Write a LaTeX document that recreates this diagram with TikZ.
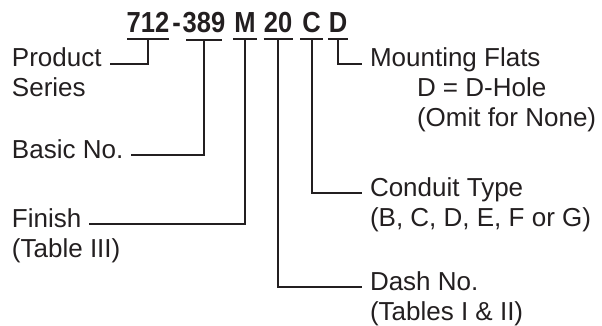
\documentclass[tikz,border=0pt]{standalone}
\usepackage{fontspec}
\setmainfont{Liberation Sans}
\newfontfamily\codefont[FakeStretch=0.88]{Liberation Sans}
\usetikzlibrary{%
    calc,
    positioning
}
\definecolor{inkgray}{HTML}{231F20}
\tikzset{codepart/.style = {font=\fontsize{29}{30}\codefont\bfseries, text=inkgray, inner xsep=0pt, inner ysep=6pt, anchor=base}}
\tikzset{fieldname/.style = {font=\fontsize{26}{30}\selectfont, text=inkgray, inner xsep=0pt, inner ysep=0pt, outer xsep=8pt, anchor=base west}}
\tikzset{leader/.style = {line width=2pt, draw=inkgray}}

\begin{document}
\begin{tikzpicture}[x=1pt, y=-1pt]
    \useasboundingbox (0,0) rectangle (602,326);

    % part number
    \node[codepart] (c712)  at (148,33)   {712};
    \node[codepart] (cdash) at (176.5,33) {-};
    \node[codepart] (c389)  at (204,33)   {389};
    \node[codepart] (cM)    at (245,33)   {M};
    \node[codepart] (c20)   at (278,33)   {20};
    \node[codepart] (cC)    at (311.5,33) {C};
    \node[codepart] (cD)    at (338,33)   {D};

    % field names, left side
    \node[fieldname] (product) at (4,67)  {Product};
    \node[fieldname] (series)  at ([yshift=-30pt]product.base west) {Series};
    \node[fieldname] (basic)   at (4,158) {Basic No.};
    \node[fieldname] (finish)  at (4,227) {Finish};
    \node[fieldname] (table3)  at ([yshift=-30pt]finish.base west) {(Table III)};

    % field names, right side
    \node[fieldname] (mounting) at (362,67)  {Mounting Flats};
    \node[fieldname] (dhole)    at ([xshift=47pt, yshift=-30pt]mounting.base west) {D = D-Hole};
    \node[fieldname] (omit)     at ([yshift=-30pt]dhole.base west) {(Omit for None)};
    \node[fieldname] (conduit)  at (362,196) {Conduit Type};
    \node[fieldname] (letters)  at ([yshift=-30pt]conduit.base west) {(B, C, D, E, F or G)};
    \node[fieldname] (dash)     at (362,290) {Dash No.};
    \node[fieldname] (tables)   at ([yshift=-30pt]dash.base west) {(Tables I \& II)};

    % underlines
    \foreach \Part/\Half in {%
        712/21,
        389/18,
        M/12,
        20/14.5,
        C/11.5,
        D/10%
        }
        \draw[leader] ([xshift=-\Half pt]c\Part.south) -- ([xshift=\Half pt]c\Part.south);

    % leaders to the field names
    \foreach \Part/\Field in {%
        712/product,
        389/basic,
        M/finish%
        }
        \draw[leader] (c\Part.south) |- (\Field.mid east);
    \foreach \Part/\Field in {%
        20/dash,
        C/conduit,
        D/mounting%
        }
        \draw[leader] (c\Part.south) |- (\Field.mid west);
\end{tikzpicture}
\end{document}
